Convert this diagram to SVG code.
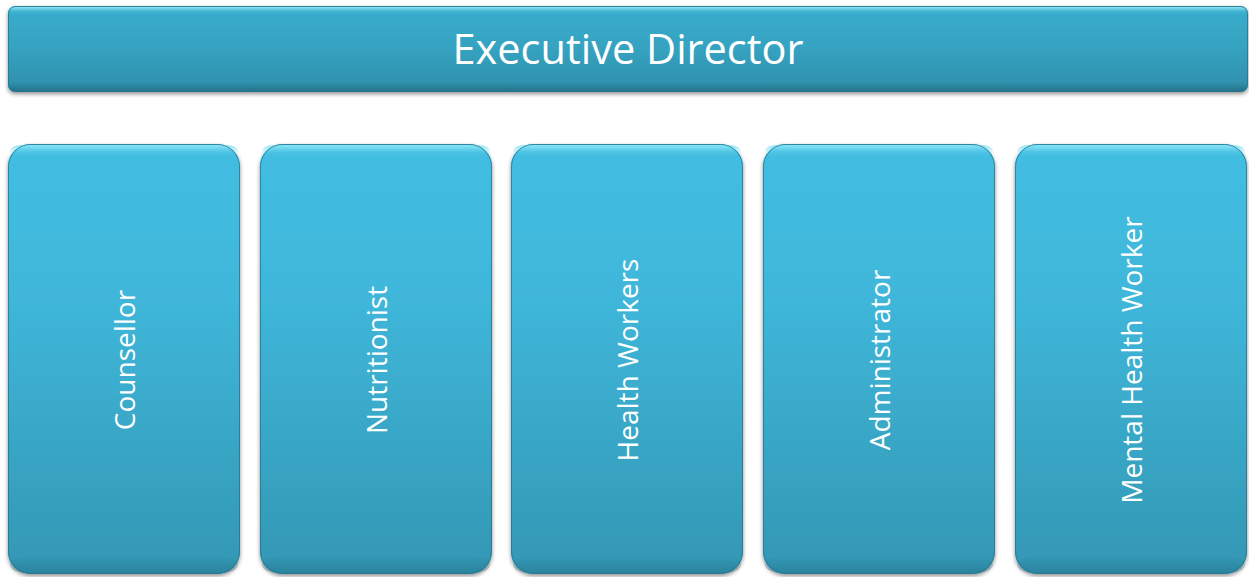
<svg xmlns="http://www.w3.org/2000/svg" width="1249" height="577" viewBox="0 0 1249 577">
  <defs>
    <linearGradient id="gTop" x1="0" y1="0" x2="0" y2="1">
      <stop offset="0" stop-color="#3aaecd"/>
      <stop offset="0.5" stop-color="#35a2c0"/>
      <stop offset="1" stop-color="#2e8ea9"/>
    </linearGradient>
    <linearGradient id="gRole" x1="0" y1="0" x2="0" y2="1">
      <stop offset="0" stop-color="#42bee2"/>
      <stop offset="0.35" stop-color="#3fb7da"/>
      <stop offset="1" stop-color="#3397b4"/>
    </linearGradient>
    <linearGradient id="gRim" x1="0" y1="0" x2="0" y2="1">
      <stop offset="0" stop-color="#8ee6f7" stop-opacity="0.95"/>
      <stop offset="0.6" stop-color="#8ee6f7" stop-opacity="0.15"/>
      <stop offset="1" stop-color="#8ee6f7" stop-opacity="0"/>
    </linearGradient>
    <linearGradient id="gShade" x1="0" y1="0" x2="0" y2="1">
      <stop offset="0" stop-color="#1d6075" stop-opacity="0"/>
      <stop offset="1" stop-color="#1d6075" stop-opacity="0.6"/>
    </linearGradient>
    <filter id="drop" x="-5%" y="-5%" width="110%" height="115%">
      <feGaussianBlur in="SourceAlpha" stdDeviation="2"/>
      <feOffset dx="0" dy="2" result="b"/>
      <feComponentTransfer><feFuncA type="linear" slope="0.45"/></feComponentTransfer>
      <feMerge><feMergeNode/><feMergeNode in="SourceGraphic"/></feMerge>
    </filter>
  </defs>
  <style>
    .box { filter: url(#drop); }
    .edge { fill: none; stroke: #246f86; stroke-width: 1; stroke-opacity: 0.7; }
    .label { fill: #ffffff; font-family: "Open Sans", "Liberation Sans", sans-serif; text-anchor: middle; }
    .title { font-size: 41.5px; }
    .role { font-size: 28px; }
  </style>

  <rect width="1249" height="577" fill="#ffffff"/>

  <!-- Executive Director bar -->
  <g id="executive-director">
    <g class="box">
      <rect x="8" y="6" width="1240" height="86" rx="7" fill="url(#gTop)"/>
    </g>
    <rect x="9.5" y="7" width="1237" height="7" rx="5" fill="url(#gRim)"/>
    <rect x="9" y="82" width="1238" height="9.5" rx="6" fill="url(#gShade)"/>
    <rect x="8.5" y="6.5" width="1239" height="85" rx="7" class="edge"/>
    <text class="label title" x="628" y="64">Executive Director</text>
  </g>

  <!-- Staff roles -->
  <g id="counsellor">
    <g class="box"><rect x="8" y="144" width="232" height="430" rx="22" fill="url(#gRole)"/></g>
    <rect x="10" y="145" width="228" height="12" rx="11" fill="url(#gRim)"/>
    <rect x="10" y="556" width="228" height="17" rx="16" fill="url(#gShade)" opacity="0.6"/>
    <rect x="8.5" y="144.5" width="231" height="429" rx="22" class="edge"/>
    <text class="label role" transform="translate(135,360) rotate(-90)">Counsellor</text>
  </g>

  <g id="nutritionist">
    <g class="box"><rect x="260" y="144" width="232" height="430" rx="22" fill="url(#gRole)"/></g>
    <rect x="262" y="145" width="228" height="12" rx="11" fill="url(#gRim)"/>
    <rect x="262" y="556" width="228" height="17" rx="16" fill="url(#gShade)" opacity="0.6"/>
    <rect x="260.5" y="144.5" width="231" height="429" rx="22" class="edge"/>
    <text class="label role" transform="translate(387,360) rotate(-90)">Nutritionist</text>
  </g>

  <g id="health-workers">
    <g class="box"><rect x="511" y="144" width="232" height="430" rx="22" fill="url(#gRole)"/></g>
    <rect x="513" y="145" width="228" height="12" rx="11" fill="url(#gRim)"/>
    <rect x="513" y="556" width="228" height="17" rx="16" fill="url(#gShade)" opacity="0.6"/>
    <rect x="511.5" y="144.5" width="231" height="429" rx="22" class="edge"/>
    <text class="label role" transform="translate(638,360) rotate(-90)">Health Workers</text>
  </g>

  <g id="administrator">
    <g class="box"><rect x="763" y="144" width="232" height="430" rx="22" fill="url(#gRole)"/></g>
    <rect x="765" y="145" width="228" height="12" rx="11" fill="url(#gRim)"/>
    <rect x="765" y="556" width="228" height="17" rx="16" fill="url(#gShade)" opacity="0.6"/>
    <rect x="763.5" y="144.5" width="231" height="429" rx="22" class="edge"/>
    <text class="label role" transform="translate(890,360) rotate(-90)">Administrator</text>
  </g>

  <g id="mental-health-worker">
    <g class="box"><rect x="1015" y="144" width="232" height="430" rx="22" fill="url(#gRole)"/></g>
    <rect x="1017" y="145" width="228" height="12" rx="11" fill="url(#gRim)"/>
    <rect x="1017" y="556" width="228" height="17" rx="16" fill="url(#gShade)" opacity="0.6"/>
    <rect x="1015.5" y="144.5" width="231" height="429" rx="22" class="edge"/>
    <text class="label role" transform="translate(1142,360) rotate(-90)">Mental Health Worker</text>
  </g>

  <g id="connectors"></g>
</svg>
